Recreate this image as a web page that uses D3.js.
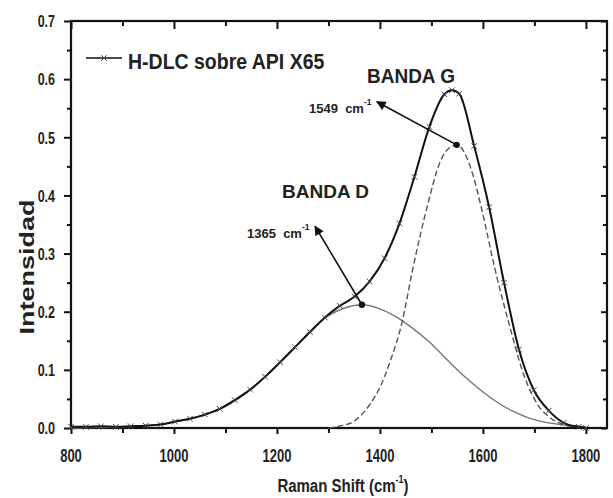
<!DOCTYPE html>
<html>
<head>
<meta charset="utf-8">
<script src="https://cdn.jsdelivr.net/npm/d3@7"></script>
<style>
  html, body { margin: 0; padding: 0; background: #ffffff; }
  svg { display: block; }
  text { font-family: "Liberation Sans", Arial, sans-serif; white-space: pre; }
</style>
</head>
<body>
<svg id="chart" width="613" height="498"></svg>
<script>
// ---- Data ----
const totalX = [800, 829, 858, 887, 916, 945, 974, 1002, 1031, 1060, 1089, 1118, 1148, 1177, 1206, 1235, 1264, 1293, 1322, 1351, 1380, 1409, 1438, 1467, 1496, 1525, 1540, 1554, 1583, 1612, 1641, 1670, 1699, 1728, 1757, 1786, 1800];
const totalY = [0.002, 0.002, 0.003, 0.002, 0.003, 0.004, 0.006, 0.011, 0.016, 0.023, 0.033, 0.048, 0.066, 0.088, 0.113, 0.139, 0.165, 0.190, 0.210, 0.226, 0.252, 0.292, 0.352, 0.432, 0.518, 0.574, 0.581, 0.575, 0.485, 0.380, 0.250, 0.135, 0.065, 0.030, 0.009, 0.002, 0.000];

const bandDX = [800, 850, 900, 950, 1000, 1050, 1100, 1150, 1200, 1250, 1300, 1330, 1365, 1400, 1430, 1460, 1497, 1530, 1565, 1600, 1630, 1660, 1690, 1720, 1760, 1800];
const bandDY = [0.000, 0.001, 0.002, 0.004, 0.010, 0.020, 0.037, 0.067, 0.108, 0.152, 0.193, 0.206, 0.212, 0.205, 0.192, 0.174, 0.147, 0.118, 0.088, 0.062, 0.043, 0.028, 0.017, 0.010, 0.005, 0.002];

const bandGX = [1300, 1320, 1350, 1380, 1400, 1420, 1443, 1463, 1493, 1517, 1535, 1549, 1565, 1579, 1598, 1623, 1652, 1680, 1705, 1730, 1760, 1790, 1800];
const bandGY = [0.000, 0.003, 0.012, 0.040, 0.070, 0.115, 0.182, 0.270, 0.385, 0.458, 0.482, 0.487, 0.472, 0.440, 0.375, 0.275, 0.175, 0.090, 0.042, 0.018, 0.005, 0.001, 0.000];

const xMajorTicks = [800, 1000, 1200, 1400, 1600, 1800];
const xMinorTicks = [900, 1100, 1300, 1500, 1700];
const yMajorTicks = [0.0, 0.1, 0.2, 0.3, 0.4, 0.5, 0.6, 0.7];
const yMinorTicks = [0.05, 0.15, 0.25, 0.35, 0.45, 0.55, 0.65];

const peakLabels = ["1365", "1549"];
const peakX = [1365, 1549];
const peakY = [0.212, 0.487];
const arrowTipX = [1274, 1394];
const arrowTipY = [0.347, 0.561];

const legendLabel = "H-DLC sobre API X65";
const xTitle = "Raman Shift (cm";
const yTitle = "Intensidad";

// ---- Layout ----
const svg = d3.select("#chart");
const L = 71, R = 607, T = 21, B = 428;
const x = d3.scaleLinear().domain([800, 1841]).range([L, R]);
const y = d3.scaleLinear().domain([0, 0.7]).range([B, T]);

svg.append("rect").attr("width", 613).attr("height", 498).attr("fill", "#ffffff");

// ---- Axes / ticks ----
function styleAxis(g) {
  g.select(".domain").remove();
  g.selectAll(".tick line").attr("stroke", "#111").attr("stroke-width", 2);
  g.selectAll(".tick text").remove();
}
svg.append("g").attr("transform", `translate(${L},0)`)
  .call(d3.axisLeft(y).tickValues(yMajorTicks).tickSize(7)).call(styleAxis);
svg.append("g").attr("transform", `translate(${L},0)`)
  .call(d3.axisLeft(y).tickValues(yMinorTicks).tickSize(4)).call(styleAxis);
svg.append("g").attr("transform", `translate(${R},0)`)
  .call(d3.axisRight(y).tickValues(yMajorTicks).tickSize(-6)).call(styleAxis);
svg.append("g").attr("transform", `translate(${R},0)`)
  .call(d3.axisRight(y).tickValues(yMinorTicks).tickSize(-4)).call(styleAxis);
svg.append("g").attr("transform", `translate(0,${B})`)
  .call(d3.axisBottom(x).tickValues(xMajorTicks).tickSize(6)).call(styleAxis);
svg.append("g").attr("transform", `translate(0,${B})`)
  .call(d3.axisBottom(x).tickValues(xMinorTicks).tickSize(5)).call(styleAxis);
svg.append("g").attr("transform", `translate(0,${T})`)
  .call(d3.axisTop(x).tickValues(xMajorTicks).tickSize(-8)).call(styleAxis);
svg.append("g").attr("transform", `translate(0,${T})`)
  .call(d3.axisTop(x).tickValues(xMinorTicks).tickSize(-5)).call(styleAxis);

svg.append("rect").attr("x", L).attr("y", T).attr("width", R - L).attr("height", B - T)
  .attr("fill", "none").attr("stroke", "#111").attr("stroke-width", 2.2);

// tick labels (vertically stretched like the reference)
const fmt = d3.format(".1f");
yMajorTicks.forEach(v => {
  svg.append("g").attr("transform", `translate(${L - 16},${y(v)}) scale(1,1.38)`)
    .append("text").attr("text-anchor", "end").attr("dy", "0.36em")
    .attr("font-size", 12.5).attr("font-weight", "bold").attr("fill", "#222").text(fmt(v));
});
xMajorTicks.forEach(v => {
  svg.append("g").attr("transform", `translate(${x(v)},${B + 34}) scale(1,1.38)`)
    .append("text").attr("text-anchor", "middle")
    .attr("font-size", 13).attr("font-weight", "bold").attr("fill", "#222").text(v);
});

// axis titles
const xt = svg.append("g").attr("transform", `translate(343,492) scale(1,1.27)`)
  .append("text").attr("text-anchor", "middle").attr("font-size", 15).attr("font-weight", "bold").attr("fill", "#222");
xt.append("tspan").text(xTitle);
xt.append("tspan").attr("font-size", 9).attr("dy", -7).text("-1");
xt.append("tspan").attr("dy", 7).text(")");

svg.append("g").attr("transform", `translate(34,267) rotate(-90) scale(1.35,1)`)
  .append("text").attr("text-anchor", "middle").attr("font-size", 20).attr("font-weight", "bold")
  .attr("fill", "#222").text(yTitle);

// ---- Curves ----
const total = totalX.map((d, i) => [d, totalY[i]]);
const bandD = bandDX.map((d, i) => [d, bandDY[i]]);
const bandG = bandGX.map((d, i) => [d, bandGY[i]]);
const line = d3.line().x(d => x(d[0])).y(d => y(d[1])).curve(d3.curveMonotoneX);

svg.append("path").datum(bandD).attr("d", line).attr("fill", "none")
  .attr("stroke", "#777").attr("stroke-width", 1.4);
svg.append("path").datum(bandG).attr("d", line).attr("fill", "none")
  .attr("stroke", "#555").attr("stroke-width", 1.4).attr("stroke-dasharray", "6,3");
svg.append("path").datum(total).attr("d", line).attr("fill", "none")
  .attr("stroke", "#111").attr("stroke-width", 2);

const sym = d3.symbol().type(d3.symbolTimes).size(22);
svg.append("g").selectAll("path").data(total).join("path")
  .attr("transform", d => `translate(${x(d[0])},${y(d[1])})`)
  .attr("d", sym).attr("fill", "none").attr("stroke", "#444").attr("stroke-width", 1);

// ---- Annotations ----
svg.append("defs").append("marker").attr("id", "arr")
  .attr("viewBox", "0 0 10 10").attr("refX", 9).attr("refY", 5)
  .attr("markerWidth", 7).attr("markerHeight", 6).attr("orient", "auto")
  .attr("markerUnits", "strokeWidth")
  .append("path").attr("d", "M0,0 L10,5 L0,10 z").attr("fill", "#111");

peakX.forEach((px, i) => {
  svg.append("line").attr("x1", x(px)).attr("y1", y(peakY[i]))
    .attr("x2", x(arrowTipX[i])).attr("y2", y(arrowTipY[i]))
    .attr("stroke", "#111").attr("stroke-width", 1.6).attr("marker-end", "url(#arr)");
  svg.append("circle").attr("cx", x(px)).attr("cy", y(peakY[i])).attr("r", 3.2).attr("fill", "#111");
});

function peakText(label, tx, ty) {
  const t = svg.append("text").attr("x", tx).attr("y", ty).attr("font-size", 13)
    .attr("font-weight", "bold").attr("fill", "#222");
  t.append("tspan").text(label + "  cm");
  t.append("tspan").attr("font-size", 8.5).attr("dy", -8).text("-1");
}
peakText(peakLabels[0], 247, 238);
peakText(peakLabels[1], 309, 113);

svg.append("text").attr("x", 282).attr("y", 198).attr("font-size", 19).attr("font-weight", "bold")
  .attr("fill", "#222").text("BANDA D");
svg.append("g").attr("transform", "translate(367,83) scale(1,1.1)")
  .append("text").attr("font-size", 19).attr("font-weight", "bold").attr("fill", "#222").text("BANDA G");

// ---- Legend ----
svg.append("line").attr("x1", 86).attr("x2", 122).attr("y1", 58).attr("y2", 58)
  .attr("stroke", "#111").attr("stroke-width", 1.6);
svg.append("path").attr("transform", "translate(104,58)").attr("d", sym)
  .attr("fill", "none").attr("stroke", "#444").attr("stroke-width", 1);
svg.append("g").attr("transform", "translate(128,69) scale(1,1.12)")
  .append("text").attr("font-size", 19.5).attr("font-weight", "bold").attr("fill", "#222").text(legendLabel);
</script>
</body>
</html>
